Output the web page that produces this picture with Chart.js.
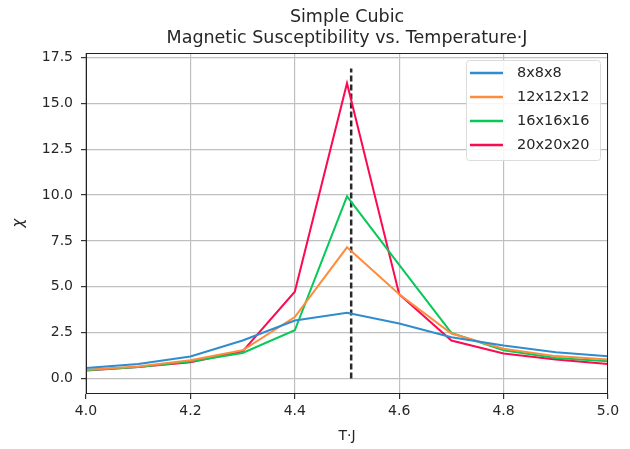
<!DOCTYPE html>
<html>
<head>
<meta charset="utf-8">
<script src="https://cdn.jsdelivr.net/npm/chart.js@4/dist/chart.umd.min.js"></script>
<style>
  html, body { margin: 0; padding: 0; background: #fff; }
  #wrap { width: 630px; height: 449px; }
</style>
</head>
<body>
<div id="wrap"><canvas id="chi"></canvas></div>
<script>
// temperatures (T·J) and susceptibility per lattice size
const temps = [4.0, 4.1, 4.2, 4.3, 4.4, 4.5, 4.6, 4.7, 4.8, 4.9, 5.0];
const chi8  = [0.57, 0.79, 1.20, 2.07, 3.16, 3.58, 3.00, 2.25, 1.80, 1.43, 1.21];
const chi12 = [0.48, 0.66, 0.99, 1.54, 3.35, 7.15, 4.59, 2.45, 1.62, 1.22, 1.03];
const chi16 = [0.45, 0.62, 0.93, 1.39, 2.63, 9.93, 6.20, 2.49, 1.54, 1.12, 0.94];
const chi20 = [0.43, 0.62, 0.88, 1.48, 4.73, 16.10, 4.59, 2.07, 1.36, 1.03, 0.79];
const sizes = ['8x8x8', '12x12x12', '16x16x16', '20x20x20'];
const colors = ['#2f8ccf', '#fd8d3c', '#08c85a', '#fc0a50'];

// critical temperature marker
const tc = 4.508;
const tcLine = [0, 16.9];

const xTicks = [4.0, 4.2, 4.4, 4.6, 4.8, 5.0];
const yTicks = [0, 2.5, 5, 7.5, 10, 12.5, 15, 17.5];

const FONT = 'DejaVu Sans';
const series = [chi8, chi12, chi16, chi20];

const datasets = series.map((s, i) => ({
  label: sizes[i],
  data: temps.map((t, j) => ({ x: t, y: s[j] })),
  borderColor: colors[i],
  backgroundColor: colors[i],
  borderWidth: 2,
  pointRadius: 0,
  tension: 0
}));
datasets.push({
  label: 'Tc',
  data: tcLine.map(v => ({ x: tc, y: v })),
  borderColor: '#2a2a2a',
  borderWidth: 2.5,
  borderDash: [6, 3],
  pointRadius: 0
});

// titles, frame and legend drawn the matplotlib way
const decor = {
  id: 'decor',
  afterDatasetsDraw(chart) {
    const ctx = chart.ctx;
    const a = chart.chartArea;
    ctx.save();
    ctx.strokeStyle = '#222';
    ctx.lineWidth = 1;
    ctx.strokeRect(a.left + 0.5, a.top + 0.5, a.right - a.left - 1, a.bottom - a.top - 1);

    // legend
    const lx = 466, ly = 60, lw = 134, lh = 100;
    ctx.fillStyle = 'rgba(255,255,255,0.85)';
    ctx.strokeStyle = '#dcdcdc';
    ctx.lineWidth = 1;
    ctx.beginPath();
    ctx.roundRect(lx + 0.5, ly + 0.5, lw, lh, 3);
    ctx.fill();
    ctx.stroke();
    ctx.font = '14.5px "' + FONT + '"';
    ctx.textBaseline = 'middle';
    ctx.textAlign = 'left';
    sizes.forEach((name, i) => {
      const y = 73 + i * 24;
      ctx.strokeStyle = colors[i];
      ctx.lineWidth = 2.5;
      ctx.beginPath();
      ctx.moveTo(470, y);
      ctx.lineTo(503, y);
      ctx.stroke();
      ctx.fillStyle = '#262626';
      ctx.fillText(name, 517, y);
    });
    ctx.restore();
  },
  afterDraw(chart) {
    const ctx = chart.ctx;
    const a = chart.chartArea;
    const cx = (a.left + a.right) / 2;
    ctx.save();
    ctx.fillStyle = '#262626';
    ctx.font = '17.5px "' + FONT + '"';
    ctx.textAlign = 'center';
    ctx.textBaseline = 'middle';
    ctx.fillText('Simple Cubic', cx, 17);
    ctx.fillText('Magnetic Susceptibility vs. Temperature\u00b7J', cx, 38);
    ctx.font = '14px "' + FONT + '"';
    ctx.fillText('T\u00b7J', cx, 436);
    ctx.translate(19, 223);
    ctx.rotate(-Math.PI / 2);
    ctx.font = 'italic 15px "' + FONT + '"';
    ctx.fillText('\u03c7', 0, 0);
    ctx.restore();
  }
};

new Chart(document.getElementById('chi').getContext('2d'), {
  type: 'line',
  data: { datasets: datasets },
  options: {
    responsive: true,
    maintainAspectRatio: false,
    animation: false,
    layout: { padding: { top: 53, right: 22, bottom: 0, left: 0 } },
    plugins: { legend: { display: false }, title: { display: false }, tooltip: { enabled: false } },
    scales: {
      x: {
        type: 'linear',
        min: 4.0,
        max: 5.0,
        afterFit(s) { s.height = 55; },
        afterBuildTicks(s) { s.ticks = xTicks.map(v => ({ value: v })); },
        grid: { color: '#c0c0c0', lineWidth: 1.2, tickColor: '#333', tickLength: 5 },
        border: { display: false },
        ticks: {
          color: '#262626',
          padding: 4,
          maxRotation: 0,
          font: { family: FONT, size: 14 },
          callback: v => Number(v).toFixed(1)
        }
      },
      y: {
        min: -0.845,
        max: 17.745,
        afterFit(s) { s.width = 86; },
        afterBuildTicks(s) { s.ticks = yTicks.map(v => ({ value: v })); },
        grid: { color: '#c0c0c0', lineWidth: 1.2, tickColor: '#333', tickLength: 5 },
        border: { display: false },
        ticks: {
          color: '#262626',
          padding: 8,
          font: { family: FONT, size: 14 },
          callback: v => Number(v).toFixed(1)
        }
      }
    }
  },
  plugins: [decor]
});
</script>
</body>
</html>
